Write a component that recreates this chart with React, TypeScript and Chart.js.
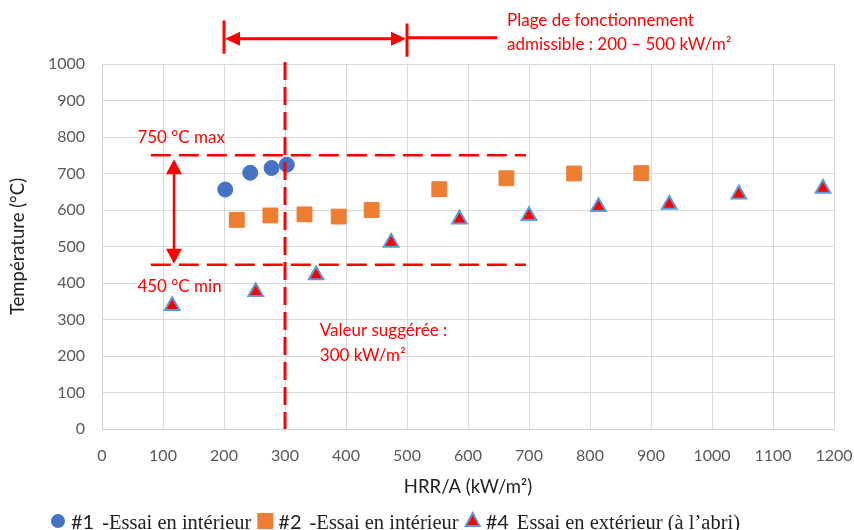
import React, { useEffect, useRef } from "react";
import { Chart, registerables } from "chart.js";

Chart.register(...registerables);

// ---- Data ----
const test1X = [202, 243, 278, 303];
const test1Y = [656, 702, 715, 724];
const test2X = [221, 276, 332, 388, 442, 553, 663, 774, 884];
const test2Y = [573, 585, 588, 582, 600, 657, 687, 700, 701];
const test4X = [115, 252, 351, 474, 586, 700, 814, 930, 1044, 1182];
const test4Y = [338, 376, 422, 511, 575, 584, 609, 615, 643, 659];

const legendTags = ["#1", "#2", "#4"];
const legendTexts = ["-Essai en intérieur", "-Essai en intérieur", "Essai en extérieur (à l’abri)"];

const xTitle = "HRR/A (kW/m²)";
const yTitle = "Température (°C)";

// ---- Annotation values ----
const tempLimits = [750, 450];
const limitLabels = ["750 °C max", "450 °C min"];
const limitFrom = 80;
const limitTo = 695;
const limitArrowX = 118;
const suggestedHRR = 300;
const suggestedLabel = ["Valeur suggérée :", "300 kW/m²"];
const rangeMin = 200;
const rangeMax = 500;
const rangeLabel = ["Plage de fonctionnement", "admissible : 200 – 500 kW/m²"];

const RED = "#ff0000";

function arrowHead(ctx: CanvasRenderingContext2D, tx: number, ty: number, dx: number, dy: number, len: number, half: number) {
  const bx = tx - dx * len;
  const by = ty - dy * len;
  const px = -dy;
  const py = dx;
  ctx.beginPath();
  ctx.moveTo(tx, ty);
  ctx.lineTo(bx + px * half, by + py * half);
  ctx.lineTo(bx - px * half, by - py * half);
  ctx.closePath();
  ctx.fill();
}

const annotationPlugin = {
  id: "annotations",
  afterDatasetsDraw(chart: any) {
    const { ctx, chartArea } = chart;
    const x = chart.scales.x;
    const y = chart.scales.y;
    ctx.save();
    ctx.strokeStyle = RED;
    ctx.fillStyle = RED;

    // horizontal limit lines
    ctx.lineWidth = 2.5;
    ctx.setLineDash([20, 8]);
    for (const t of tempLimits) {
      const py = y.getPixelForValue(t);
      ctx.beginPath();
      ctx.moveTo(x.getPixelForValue(limitFrom), py);
      ctx.lineTo(x.getPixelForValue(limitTo), py);
      ctx.stroke();
    }

    // suggested vertical line
    ctx.lineWidth = 3;
    ctx.setLineDash([18, 7]);
    const sx = x.getPixelForValue(suggestedHRR);
    ctx.beginPath();
    ctx.moveTo(sx, chartArea.top - 2);
    ctx.lineTo(sx, chartArea.bottom);
    ctx.stroke();
    ctx.setLineDash([]);

    // vertical double arrow between limits
    const ax = x.getPixelForValue(limitArrowX);
    const aTop = y.getPixelForValue(tempLimits[0]) + 4;
    const aBot = y.getPixelForValue(tempLimits[1]) - 1;
    ctx.lineWidth = 2.5;
    ctx.beginPath();
    ctx.moveTo(ax, aTop + 10);
    ctx.lineTo(ax, aBot - 10);
    ctx.stroke();
    arrowHead(ctx, ax, aTop, 0, -1, 15, 8);
    arrowHead(ctx, ax, aBot, 0, 1, 15, 8);

    // top range arrow
    const r0 = x.getPixelForValue(rangeMin);
    const r1 = x.getPixelForValue(rangeMax);
    const ry = y.getPixelForValue(1069);
    ctx.lineWidth = 3;
    ctx.beginPath();
    ctx.moveTo(r0, y.getPixelForValue(1119));
    ctx.lineTo(r0, y.getPixelForValue(1028));
    ctx.moveTo(r1, y.getPixelForValue(1111));
    ctx.lineTo(r1, y.getPixelForValue(1020));
    ctx.moveTo(r0 + 8, ry);
    ctx.lineTo(r1 - 8, ry);
    ctx.moveTo(r1, ry - 1);
    ctx.lineTo(x.getPixelForValue(648), ry - 1);
    ctx.stroke();
    arrowHead(ctx, r0 + 1, ry, -1, 0, 15, 7);
    arrowHead(ctx, r1 - 1, ry, 1, 0, 15, 7);

    // texts
    ctx.font = "17px Lato";
    ctx.textAlign = "left";
    ctx.textBaseline = "middle";
    ctx.fillText(limitLabels[0], x.getPixelForValue(58), y.getPixelForValue(798));
    ctx.fillText(limitLabels[1], x.getPixelForValue(58), y.getPixelForValue(391));
    ctx.fillText(suggestedLabel[0], x.getPixelForValue(357), y.getPixelForValue(271));
    ctx.fillText(suggestedLabel[1], x.getPixelForValue(357), y.getPixelForValue(202));
    ctx.fillText(rangeLabel[0], x.getPixelForValue(664), y.getPixelForValue(1118));
    ctx.fillText(rangeLabel[1], x.getPixelForValue(664), y.getPixelForValue(1053));
    ctx.restore();
  },
};

const legendPlugin = {
  id: "customLegend",
  afterDraw(chart: any) {
    const ctx = chart.ctx as CanvasRenderingContext2D;
    const ds = chart.data.datasets;
    const cy = 521;
    const base = 529;
    let cx = 51;
    ctx.save();
    ctx.textBaseline = "alphabetic";
    ctx.textAlign = "left";
    ds.forEach((d: any, i: number) => {
      const mx = cx + 7;
      ctx.fillStyle = d.backgroundColor;
      ctx.strokeStyle = d.borderColor;
      ctx.lineWidth = d.borderWidth;
      if (d.pointStyle === "circle") {
        ctx.beginPath();
        ctx.arc(mx, cy, 7, 0, Math.PI * 2);
        ctx.fill();
      } else if (d.pointStyle === "rect") {
        ctx.fillRect(mx - 8, cy - 8, 16, 16);
      } else {
        ctx.beginPath();
        ctx.moveTo(mx, cy - 8);
        ctx.lineTo(mx + 7, cy + 5);
        ctx.lineTo(mx - 7, cy + 5);
        ctx.closePath();
        ctx.fill();
        ctx.stroke();
      }
      cx += 20;
      ctx.fillStyle = "#222";
      ctx.font = "20px Lato";
      ctx.fillText(legendTags[i], cx, base);
      cx += ctx.measureText(legendTags[i]).width + 8;
      ctx.font = "20.5px 'Liberation Serif'";
      ctx.fillText(legendTexts[i], cx, base);
      cx += ctx.measureText(legendTexts[i]).width + 7;
    });
    ctx.restore();
  },
};

export default function App() {
  const ref = useRef<HTMLCanvasElement | null>(null);

  useEffect(() => {
    if (!ref.current) return;
    const toPts = (xs: number[], ys: number[]) => xs.map((v, i) => ({ x: v, y: ys[i] }));
    const tickFont = { family: "Lato", size: 16 };
    const titleFont = { family: "Lato", size: 18.5 };
    const chart = new Chart(ref.current, {
      type: "scatter",
      data: {
        datasets: [
          {
            label: legendTags[0] + " " + legendTexts[0],
            data: toPts(test1X, test1Y),
            pointStyle: "circle",
            pointRadius: 7.5,
            backgroundColor: "#4472c4",
            borderColor: "#4472c4",
            borderWidth: 1,
          },
          {
            label: legendTags[1] + " " + legendTexts[1],
            data: toPts(test2X, test2Y),
            pointStyle: "rect",
            pointRadius: 10.5,
            backgroundColor: "#ed7d31",
            borderColor: "#ed7d31",
            borderWidth: 1,
          },
          {
            label: legendTags[2] + " " + legendTexts[2],
            data: toPts(test4X, test4Y),
            pointStyle: "triangle",
            pointRadius: 8.5,
            backgroundColor: "#ff0000",
            borderColor: "#5b9bd5",
            borderWidth: 2,
          },
        ] as any,
      },
      options: {
        animation: false,
        responsive: false,
        layout: { padding: { top: 64, right: 20, left: 0, bottom: 0 } },
        plugins: {
          legend: { display: false },
          tooltip: { enabled: false },
        },
        scales: {
          x: {
            type: "linear",
            min: 0,
            max: 1200,
            afterFit: (s: any) => {
              s.height = 101;
              s.paddingRight = 0;
              s.paddingLeft = 0;
            },
            ticks: { stepSize: 100, color: "#595959", font: tickFont, padding: 17, maxRotation: 0, callback: (v: any) => String(v) },
            grid: { color: "#d9d9d9", drawTicks: false },
            border: { color: "#d0d0d0" },
            title: { display: true, text: xTitle, color: "#222", font: titleFont, padding: { top: 0, bottom: 32 } },
          },
          y: {
            type: "linear",
            min: 0,
            max: 1000,
            afterFit: (s: any) => {
              s.width = 102;
            },
            ticks: { stepSize: 100, color: "#595959", font: tickFont, padding: 17, callback: (v: any) => String(v) },
            grid: { color: "#d9d9d9", drawTicks: false },
            border: { color: "#d0d0d0" },
            title: { display: true, text: yTitle, color: "#222", font: titleFont, padding: { top: 7, bottom: 0 } },
          },
        },
      } as any,
      plugins: [annotationPlugin, legendPlugin],
    });
    return () => chart.destroy();
  }, []);

  return (
    <div style={{ position: "fixed", left: 0, top: 0, width: 854, height: 530, background: "#fff" }}>
      <canvas ref={ref} width={854} height={530} style={{ width: 854, height: 530, display: "block" }} />
    </div>
  );
}
